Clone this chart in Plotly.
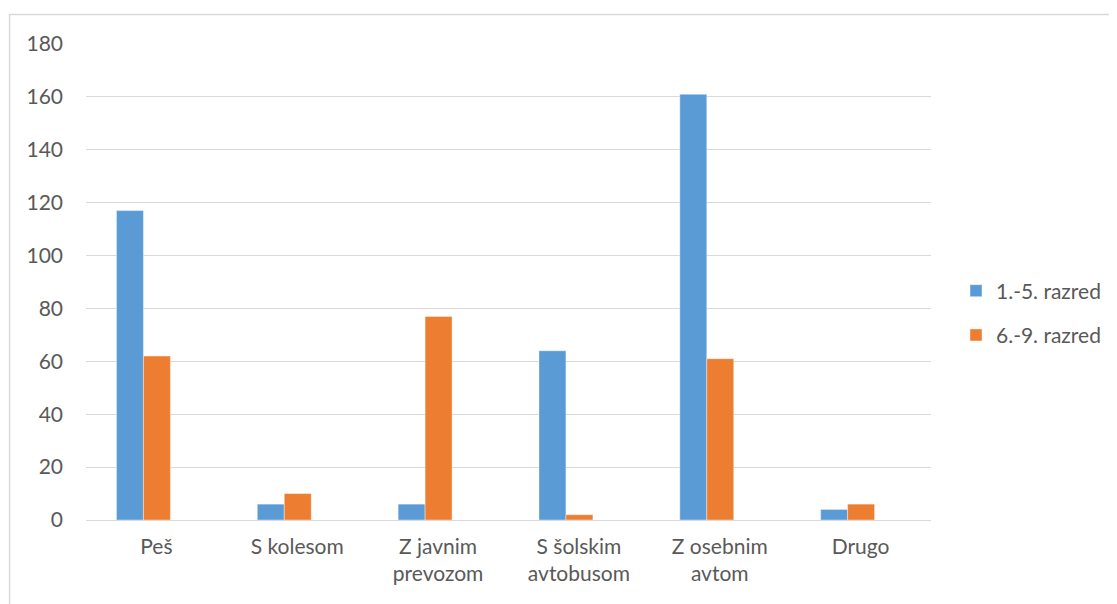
import plotly.graph_objects as go

categories = ["Peš", "S kolesom", "Z javnim<br>prevozom", "S šolskim<br>avtobusom", "Z osebnim<br>avtom", "Drugo"]
series1_name = "1.-5. razred"
series1 = [117, 6, 6, 64, 161, 4]
series2_name = "6.-9. razred"
series2 = [62, 10, 77, 2, 61, 6]
y_ticks = [0, 20, 40, 60, 80, 100, 120, 140, 160, 180]

FONT = "Lato"
TXT = "#595959"
FS = 21

# page body has an 8px margin; work in page pixels and convert
PAGE_OFF = 8
W, H = 1117 - PAGE_OFF, 604 - PAGE_OFF
plot_left, plot_right, plot_top, plot_bottom = 86, 932, 44, 520  # page px
L = plot_left - PAGE_OFF
T = plot_top - PAGE_OFF
R = W - (plot_right - PAGE_OFF)
B = H - (plot_bottom - PAGE_OFF)
pw, ph = W - L - R, H - T - B

def px2paper_x(px):
    return (px - plot_left) / pw

def px2paper_y(py):
    return (plot_bottom - py) / ph

cat_px = pw / len(categories)
bw = 27 / cat_px
shift = -13 / cat_px

fig = go.Figure()
fig.add_trace(go.Bar(x=categories, y=series1, name=series1_name, legendgroup="a",
                     width=bw, offset=shift - bw,
                     marker=dict(color="#5B9BD5", line=dict(color="rgba(255,255,255,0.5)", width=0.8))))
fig.add_trace(go.Bar(x=categories, y=series2, name=series2_name, legendgroup="b",
                     width=bw, offset=shift,
                     marker=dict(color="#ED7D31", line=dict(color="rgba(255,255,255,0.5)", width=0.8))))

fig.update_layout(
    width=W, height=H,
    margin=dict(l=L, r=R, t=T, b=B),
    paper_bgcolor="white", plot_bgcolor="white",
    barmode="overlay",
    font=dict(family=FONT, size=FS, color=TXT),
    xaxis=dict(showgrid=False, showline=False, ticks="", tickfont=dict(size=FS, color=TXT),
               ticklabelstandoff=12),
    yaxis=dict(range=[0, 180], tickvals=y_ticks, showgrid=True, gridcolor="#d9d9d9", gridwidth=1,
               zeroline=True, zerolinecolor="#d9d9d9", zerolinewidth=1, showline=False,
               ticks="", tickfont=dict(size=FS, color=TXT), ticklabelstandoff=22),
    legend=dict(x=px2paper_x(956), xanchor="left", y=px2paper_y(313), yanchor="middle",
                traceorder="grouped", tracegroupgap=14, font=dict(size=FS, color=TXT),
                bgcolor="rgba(0,0,0,0)"),
    shapes=[dict(type="rect", xref="paper", yref="paper",
                 x0=px2paper_x(9.5), x1=px2paper_x(1125), y0=px2paper_y(620), y1=px2paper_y(14.5),
                 line=dict(color="#d9d9d9", width=1.5), fillcolor="rgba(0,0,0,0)", layer="below")],
)

fig.write_html("out.html")
